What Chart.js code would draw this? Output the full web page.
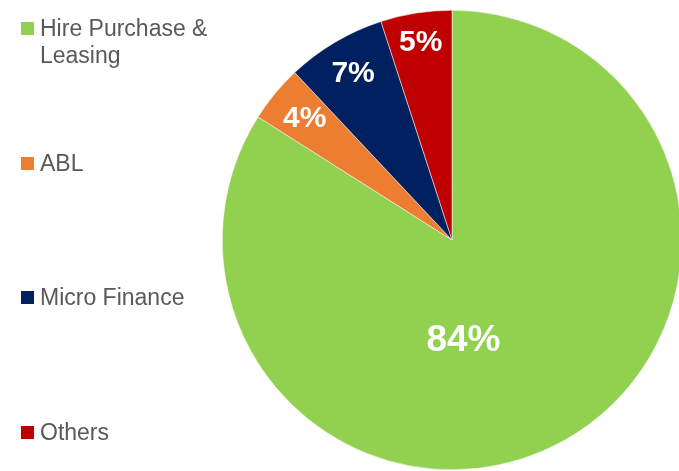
<!DOCTYPE html>
<html>
<head>
<meta charset="utf-8">
<script src="https://cdn.jsdelivr.net/npm/chart.js@4.4.1/dist/chart.umd.min.js"></script>
<style>
  html, body { margin: 0; padding: 0; background: #fff; overflow: hidden; }
  #wrap { position: relative; width: 679px; height: 471px; overflow: hidden; }
  #pieCanvas { position: absolute; left: 0; top: 0; }
  .legend-item { position: absolute; left: 21px; display: flex; align-items: flex-start;
    font-family: "Liberation Sans", Arial, sans-serif; font-size: 23px; line-height: 27px; color: #595959; }
  .legend-box { width: 13px; height: 13px; margin-top: 7px; margin-right: 6px; flex: none; }
  .legend-text { width: 190px; }
</style>
</head>
<body>
<div id="wrap">
  <canvas id="pieCanvas" width="690" height="471"></canvas>
  <div id="legend"></div>
</div>
<script>
// Chart data
const labels = ['Hire Purchase & Leasing', 'ABL', 'Micro Finance', 'Others'];
const shares = [84, 4, 7, 5];
const colors = ['#92D050', '#ED7D31', '#002060', '#C00000'];

// HTML legend on the left, spread down the page
const legendEl = document.getElementById('legend');
labels.forEach((name, i) => {
  const item = document.createElement('div');
  item.className = 'legend-item';
  item.style.top = (15 + i * 134.5) + 'px';
  item.innerHTML = '<span class="legend-box" style="background:' + colors[i] + '"></span>' +
    '<span class="legend-text"></span>';
  item.querySelector('.legend-text').textContent = name;
  legendEl.appendChild(item);
});

// Draws the white percentage labels inside the slices
const sliceLabels = {
  id: 'sliceLabels',
  afterDatasetsDraw(chart) {
    const ctx = chart.ctx;
    const meta = chart.getDatasetMeta(0);
    ctx.save();
    ctx.fillStyle = '#ffffff';
    ctx.textAlign = 'center';
    ctx.textBaseline = 'middle';
    meta.data.forEach((arc, i) => {
      const r = arc.outerRadius;
      const text = shares[i] + '%';
      let x, y;
      if (arc.circumference > Math.PI) {
        // big slice: label sits below the centre
        ctx.font = 'bold 37px "Liberation Sans", Arial, sans-serif';
        x = arc.x + r * 0.05;
        y = arc.y + r * 0.435;
      } else {
        // small slices: label box pushed to the inside end of the slice
        ctx.font = 'bold 30px "Liberation Sans", Arial, sans-serif';
        const mid = (arc.startAngle + arc.endAngle) / 2;
        const halfW = ctx.measureText(text).width / 2;
        const halfH = 11;
        const ext = Math.abs(Math.sin(mid)) * halfH + Math.abs(Math.cos(mid)) * halfW;
        const d = r * 0.935 - ext;
        x = arc.x + Math.cos(mid) * d;
        y = arc.y + Math.sin(mid) * d;
      }
      ctx.fillText(text, x, y + 1);
    });
    ctx.restore();
  }
};

const ctx = document.getElementById('pieCanvas').getContext('2d');
new Chart(ctx, {
  type: 'pie',
  data: {
    labels: labels,
    datasets: [{
      data: shares,
      backgroundColor: colors,
      borderColor: '#ffffff',
      borderWidth: 0.5
    }]
  },
  options: {
    responsive: false,
    animation: false,
    rotation: 0,
    layout: { padding: { left: 222, right: 8, top: 10, bottom: 1 } },
    plugins: {
      legend: { display: false },
      tooltip: { enabled: false }
    }
  },
  plugins: [sliceLabels]
});
</script>
</body>
</html>
